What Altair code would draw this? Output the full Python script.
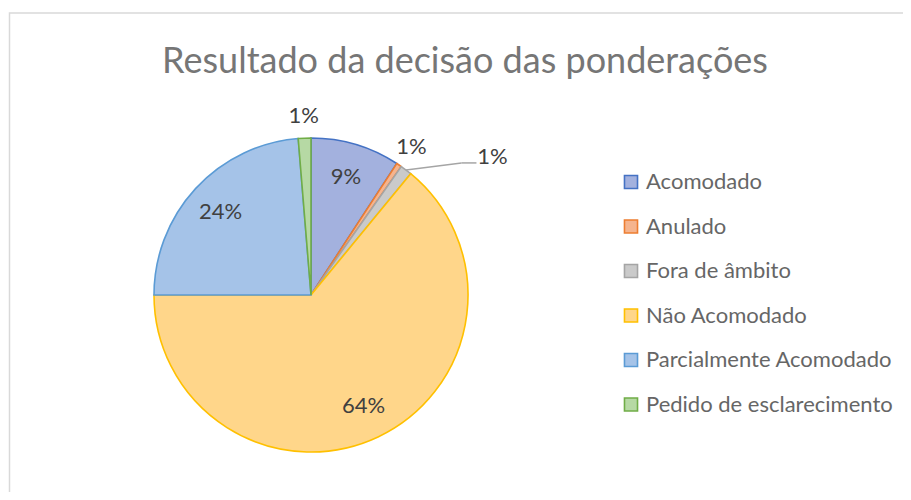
import altair as alt
import pandas as pd

TITLE = "Resultado da decisão das ponderações"
categories = ["Acomodado", "Anulado", "Fora de âmbito", "Não Acomodado",
              "Parcialmente Acomodado", "Pedido de esclarecimento"]
values = [9.2, 0.55, 1.2, 64.05, 23.7, 1.3]
fills = ["#A3B1DE", "#F5B48E", "#CACACA", "#FFD68A", "#A5C3E8", "#B6D9A4"]
strokes = ["#4472C4", "#ED7D31", "#A5A5A5", "#FFC000", "#5B9BD5", "#70AD47"]

df = pd.DataFrame({"cat": categories, "value": values, "idx": list(range(len(categories)))})

CX, CY, R = 303, 287, 157
FONT = "Lato"

base = alt.Chart(df)

fill_scale = alt.Scale(domain=categories, range=fills)
stroke_scale = alt.Scale(domain=categories, range=strokes)

pie = base.mark_arc(outerRadius=R, strokeWidth=1.6).encode(
    theta=alt.Theta("value:Q", stack=True),
    order=alt.Order("idx:Q"),
    fill=alt.Fill("cat:N", scale=fill_scale, title=None),
    stroke=alt.Stroke("cat:N", scale=stroke_scale, title=None),
    x=alt.value(CX), y=alt.value(CY),
)

geo = base.transform_joinaggregate(total="sum(value)").transform_window(
    cum="sum(value)", sort=[alt.SortField("idx")], frame=[None, 0]
).transform_calculate(
    a1="2*PI*datum.cum/datum.total",
    a0="2*PI*(datum.cum-datum.value)/datum.total",
).transform_calculate(
    mid="(datum.a0+datum.a1)/2",
    pct="datum.value/datum.total",
    special="datum.cat == 'Fora de âmbito'",
).transform_calculate(
    lr="datum.special ? 228 : (datum.pct > 0.05 ? 123 : 179)",
    lmid="datum.special ? datum.mid + 0.27 : datum.mid",
).transform_calculate(
    lx=f"{CX} + datum.lr*sin(datum.lmid)",
    ly=f"{CY} - datum.lr*cos(datum.lmid)",
    ex=f"{CX} + {R}*sin(datum.mid)",
    ey=f"{CY} - {R}*cos(datum.mid)",
    label="format(datum.pct, '.0%')",
)

labels = geo.mark_text(font=FONT, fontSize=22, color="#404040", baseline="middle", align="center").encode(
    x=alt.X("lx:Q", scale=None), y=alt.Y("ly:Q", scale=None), text="label:N"
)

leader1 = geo.transform_filter("datum.special").transform_calculate(
    bx="datum.lx - 31", by="datum.ly + 6"
).mark_rule(color="#A5A5A5", strokeWidth=1.5).encode(
    x=alt.X("ex:Q", scale=None), y=alt.Y("ey:Q", scale=None),
    x2="bx:Q", y2="by:Q",
)
leader2 = geo.transform_filter("datum.special").transform_calculate(
    bx="datum.lx - 31", by="datum.ly + 6", cx2="datum.lx - 16"
).mark_rule(color="#A5A5A5", strokeWidth=1.5).encode(
    x=alt.X("bx:Q", scale=None), y=alt.Y("by:Q", scale=None),
    x2="cx2:Q", y2="by:Q",
)

tdf = pd.DataFrame({"t": [TITLE]})
title = alt.Chart(tdf).mark_text(font=FONT, fontSize=36, color="#767676", align="center", baseline="alphabetic").encode(
    x=alt.value(457), y=alt.value(65), text="t:N"
)
border = alt.Chart(tdf).mark_rect(fillOpacity=0, stroke="#D9D9D9", strokeWidth=1.5).encode(
    x=alt.value(1.5), y=alt.value(5), x2=alt.value(1000), y2=alt.value(1000)
)

chart = alt.layer(border, title, pie, leader1, leader2, labels).properties(
    width=895, height=484,
    autosize=alt.AutoSizeParams(type="none"),
    padding=0,
).configure_view(stroke=None).configure_legend(
    orient="none", legendX=612, legendY=163,
    symbolType="square", symbolSize=170, symbolStrokeWidth=1.6,
    labelFont=FONT, labelFontSize=22, labelColor="#666666",
    rowPadding=22.5, labelOffset=4, padding=0, labelLimit=0,
)

chart.save("out.html", embed_options={"renderer": "svg", "actions": False})
